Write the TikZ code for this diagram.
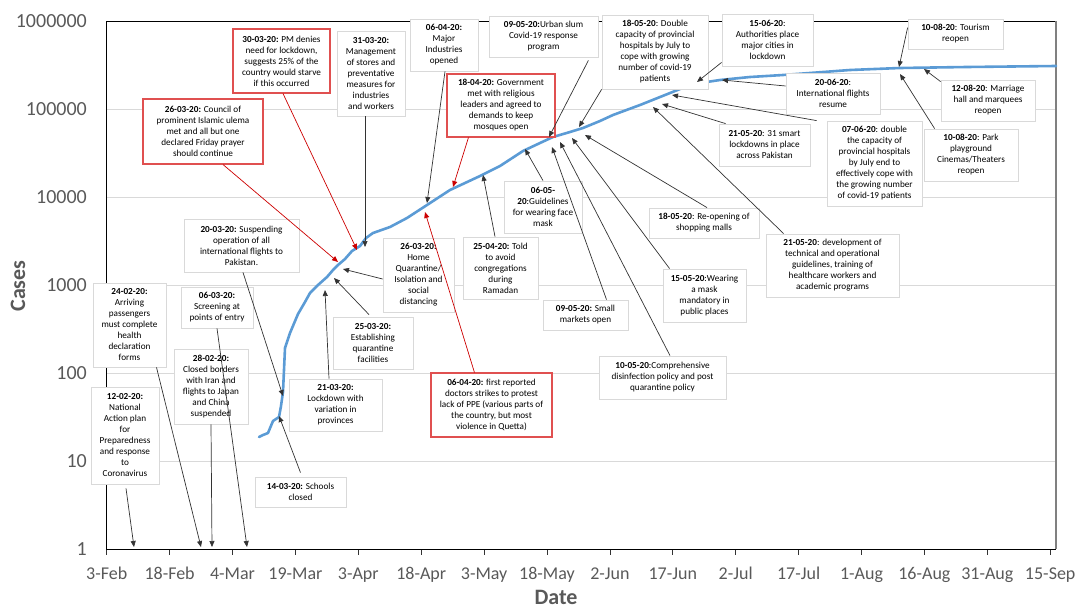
\documentclass[tikz,border=0pt]{standalone}
\usepackage{fontspec}
\setmainfont{Carlito}
\usetikzlibrary{arrows.meta}
\definecolor{curveblue}{RGB}{91,155,213}
\definecolor{boxgray}{RGB}{217,217,217}
\definecolor{boxred}{RGB}{224,80,80}
\definecolor{arrred}{RGB}{204,0,0}
\definecolor{axisgray}{RGB}{89,89,89}
\definecolor{gridgray}{RGB}{217,217,217}

\begin{document}
\begin{tikzpicture}[x=1pt,y=-1pt,
  event/.style={draw=boxgray, fill=white, line width=0.8pt, align=center, inner sep=1pt, font=\fontsize{9.2}{11}\selectfont},
  redevent/.style={event, draw=boxred, line width=1.1pt},
  pointer/.style={draw=black!80, line width=0.7pt, -{Triangle[length=6pt,width=5pt]}},
  redpointer/.style={pointer, draw=arrred},
  ticklab/.style={axisgray, inner sep=0pt, font=\fontsize{18}{20}\selectfont, anchor=base},
  caselab/.style={axisgray, inner sep=0pt, font=\fontsize{20}{22}\selectfont, anchor=base east},
  axistitle/.style={axisgray, inner sep=0pt, font=\bfseries\fontsize{22}{26}\selectfont},
]
\useasboundingbox (0,0) rectangle (1083,610);

\foreach \e in {1,...,5} {
  \draw[gridgray, line width=0.9pt] (106.7,549-88*\e) -- (1056,549-88*\e);
}
\foreach \v [count=\e from 0] in {1,10,100,1000,10000,100000,1000000} {
  \node (yl\e) [caselab] at (87,555.5-88*\e) {\v};
}
\foreach \lab [count=\i from 0] in {3-Feb,18-Feb,4-Mar,19-Mar,3-Apr,18-Apr,3-May,18-May,2-Jun,17-Jun,2-Jul,17-Jul,1-Aug,16-Aug,31-Aug,15-Sep} {
  \draw[black!80, line width=0.8pt] (106.7+62.9*\i,549) -- (106.7+62.9*\i,555);
  \node (xl\i) [ticklab] at (106.7+62.9*\i,579) {\lab};
}
\draw[black, line width=0.9pt] (1056,21) -- (106.7,21) -- (106.7,549) -- (1056,549);
\draw[black!50, line width=1.6pt] (1056,21) -- (1056,549);

\node (ytitle) [axistitle, rotate=90] at (18,286) {Cases};
\node (xtitle) [axistitle] at (556,597) {Date};

\draw[curveblue, line width=2.6pt, line join=round, line cap=round] plot coordinates {
  (259,437) (263,435) (268,433) (273,421) (279,417) (281,406) (283,392) (284,370)
  (285,348) (290,333) (298,314) (305,302) (310,293) (318,285) (327,277) (333,270)
  (338,265) (345,259) (352,251) (360,246) (366,238) (373,233) (390,227) (407,218)
  (427,205) (450,190) (480,176) (500,166) (523,151) (540,143) (553,137) (570,132)
  (583,128) (600,121) (613,115) (640,105) (660,97) (680,89) (700,83) (720,80)
  (750,77) (783,75) (850,70) (900,68) (967,67) (1056,66)};

% events, left to right in time
\node (b1202) [event, minimum width=68pt, minimum height=97pt] at (125,435.5)
  {\textbf{12-02-20:}\\National\\Action plan\\for\\Preparedness\\and response\\to\\Coronavirus};
\node (b2402) [event, minimum width=73pt, minimum height=84pt] at (129.5,325)
  {\textbf{24-02-20:}\\Arriving\\passengers\\must complete\\health\\declaration\\forms};
\node (b2802) [event, minimum width=74pt, minimum height=75pt] at (211,386.5)
  {\textbf{28-02-20:}\\Closed borders\\with Iran and\\flights to Japan\\and China\\suspended};
\node (b0603) [event, minimum width=72pt, minimum height=41pt] at (217,307.5)
  {\textbf{06-03-20:}\\Screening at\\points of entry};
\node (b1403) [event, minimum width=91pt, minimum height=30pt] at (300.5,492)
  {\textbf{14-03-20:} Schools\\closed};
\node (b2003) [event, minimum width=115pt, minimum height=53pt] at (241.5,245.5)
  {\textbf{20-03-20:} Suspending\\operation of all\\international flights to\\Pakistan.};
\node (b2103) [event, minimum width=93pt, minimum height=52pt] at (335.5,405)
  {\textbf{21-03-20:}\\Lockdown with\\variation in\\provinces};
\node (b2503) [event, minimum width=80pt, minimum height=52pt] at (373,343)
  {\textbf{25-03-20:}\\Establishing\\quarantine\\facilities};
\node (b2603h) [event, minimum width=71pt, minimum height=74pt] at (418.5,275)
  {\textbf{26-03-20:}\\Home\\Quarantine/\\Isolation and\\social\\distancing};
\node (b2603) [redevent, minimum width=120pt, minimum height=65pt] at (203,131.5)
  {\textbf{26-03-20:} Council of\\prominent Islamic ulema\\met and all but one\\declared Friday prayer\\should continue};
\node (b3003) [redevent, minimum width=97pt, minimum height=64pt] at (281.5,61)
  {\textbf{30-03-20:} PM denies\\need for lockdown,\\suggests 25\% of the\\country would starve\\if this occurred};
\node (b3103) [event, minimum width=68pt, minimum height=85pt] at (371,73.5)
  {\textbf{31-03-20:}\\Management\\of stores and\\preventative\\measures for\\industries\\and workers};
\node (b0604) [event, minimum width=68pt, minimum height=52pt] at (444,45)
  {\textbf{06-04-20:}\\Major\\Industries\\opened};
\node (b0604d) [redevent, minimum width=121pt, minimum height=64pt] at (491.5,405)
  {\textbf{06-04-20:} first reported\\doctors strikes to protest\\lack of PPE (various parts of\\the country, but most\\violence in Quetta)};
\node (b1804) [redevent, minimum width=108pt, minimum height=63pt] at (501,105.5)
  {\textbf{18-04-20:} Government\\met with religious\\leaders and agreed to\\demands to keep\\mosques open};
\node (b2504) [event, minimum width=75pt, minimum height=62pt] at (500.5,268)
  {\textbf{25-04-20:} Told\\to avoid\\congregations\\during\\Ramadan};
\node (b0605) [event, minimum width=78pt, minimum height=52pt] at (543,207)
  {\textbf{06-05-}\\\textbf{20}:Guidelines\\for wearing face\\mask};
\node (b0905) [event, minimum width=109pt, minimum height=41pt] at (543.5,36.5)
  {\textbf{09-05-20:}Urban slum\\Covid-19 response\\program};
\node (b0905s) [event, minimum width=85pt, minimum height=30pt] at (585.5,315)
  {\textbf{09-05-20:} Small\\markets open};
\node (b1005) [event, minimum width=127pt, minimum height=43pt] at (662.5,377.5)
  {\textbf{10-05-20}:Comprehensive\\disinfection policy and post\\quarantine policy};
\node (b1505) [event, minimum width=83pt, minimum height=53pt] at (704.5,295.5)
  {\textbf{15-05-20}:Wearing\\a mask\\mandatory in\\public places};
\node (b1805) [event, minimum width=106pt, minimum height=74pt] at (655,52)
  {\textbf{18-05-20}: Double\\capacity of provincial\\hospitals by July to\\cope with growing\\number of covid-19\\patients};
\node (b1805m) [event, minimum width=110pt, minimum height=30pt] at (704,223)
  {\textbf{18-05-20}: Re-opening of\\shopping malls};
\node (b2105s) [event, minimum width=91pt, minimum height=42pt] at (764.5,145)
  {\textbf{21-05-20}: 31 smart\\lockdowns in place\\across Pakistan};
\node (b2105d) [event, minimum width=133pt, minimum height=63pt] at (832.5,265.5)
  {\textbf{21-05-20}: development of\\technical and operational\\guidelines, training of\\healthcare workers and\\academic programs};
\node (b0706) [event, minimum width=95pt, minimum height=85pt] at (874.5,163.5)
  {\textbf{07-06-20}: double\\the capacity of\\provincial hospitals\\by July end to\\effectively cope with\\the growing number\\of covid-19 patients};
\node (b1506) [event, minimum width=91pt, minimum height=52pt] at (767.5,40)
  {\textbf{15-06-20}:\\Authorities place\\major cities in\\lockdown};
\node (b2006) [event, minimum width=94pt, minimum height=41pt] at (833,93.5)
  {\textbf{20-06-20}:\\International flights\\resume};
\node (b1008t) [event, minimum width=95pt, minimum height=30pt] at (955.5,34)
  {\textbf{10-08-20}: Tourism\\reopen};
\node (b1008p) [event, minimum width=94pt, minimum height=52pt] at (971,155)
  {\textbf{10-08-20}: Park\\playground\\Cinemas/Theaters\\reopen};
\node (b1208) [event, minimum width=94pt, minimum height=41pt] at (988,100.5)
  {\textbf{12-08-20}: Marriage\\hall and marquees\\reopen};

% where each pointer meets the curve or the axis
\coordinate (t1202) at (134,547);
\coordinate (t2402) at (201,547);
\coordinate (t2802) at (212,547);
\coordinate (t0603) at (247,547);
\coordinate (t1403) at (279,416);
\coordinate (t2003) at (283,396);
\coordinate (t2103) at (325,290);
\coordinate (t2503) at (334,278);
\coordinate (t2603h) at (343,269);
\coordinate (t2603) at (338,262);
\coordinate (t3003) at (357,250);
\coordinate (t3103) at (365,247);
\coordinate (t0604) at (427,203);
\coordinate (t0604d) at (425,212);
\coordinate (t1804) at (453,187);
\coordinate (t2504) at (483,175);
\coordinate (t0605) at (525,149);
\coordinate (t0905) at (549,137);
\coordinate (t0905s) at (552,147);
\coordinate (t1005) at (560,142);
\coordinate (t1505) at (572,138);
\coordinate (t1805) at (579,127);
\coordinate (t1805m) at (585,135);
\coordinate (t2105s) at (662,104);
\coordinate (t2105d) at (653,107);
\coordinate (t0706) at (672,95);
\coordinate (t1506) at (697,82);
\coordinate (t2006) at (722,80);
\coordinate (t1008t) at (899,67);
\coordinate (t1008p) at (900,74);
\coordinate (t1208) at (924,69);

\draw[pointer] ([xshift=1pt,yshift=-4pt]b1202.south) -- (t1202);
\draw[pointer] ([xshift=27pt]b2402.south) -- (t2402);
\draw[pointer] (b2802.south) -- (t2802);
\draw[pointer] (b0603.south) -- (t0603);
\draw[pointer] ([yshift=4pt]b1403.north) -- (t1403);
\draw[pointer] ([xshift=1.5pt]b2003.south) -- (t2003);
\draw[pointer] ([xshift=-6.5pt]b2103.north) -- (t2103);
\draw[pointer] ([xshift=-4pt,yshift=2pt]b2503.north) -- (t2503);
\draw[pointer] ([yshift=-4pt]b2603h.west) -- (t2603h);
\draw[redpointer] ([xshift=20pt]b2603.south) -- (t2603);
\draw[redpointer] ([xshift=1.5pt]b3003.south) -- (t3003);
\draw[pointer] ([xshift=-6pt]b3103.south) -- (t3103);
\draw[pointer] ([xshift=1pt]b0604.south) -- (t0604);
\draw[redpointer] ([xshift=44pt]b0604d.north west) -- (t0604d);
\draw[redpointer] ([xshift=22pt]b1804.south west) -- (t1804);
\draw[pointer] ([xshift=-5.5pt]b2504.north) -- (t2504);
\draw[pointer] (b0605.north) -- (t0605);
\draw[pointer] ([xshift=-10pt,yshift=-3pt]b0905.south east) -- (t0905);
\draw[pointer] ([xshift=21pt]b0905s.north) -- (t0905s);
\draw[pointer] ([xshift=7.5pt]b1005.north) -- (t1005);
\draw[pointer] ([xshift=7pt]b1505.north west) -- (t1505);
\draw[pointer] (b1805.south west) -- (t1805);
\draw[pointer] ([xshift=3pt]b1805m.north) -- (t1805m);
\draw[pointer] ([xshift=7pt]b2105s.north west) -- (t2105s);
\draw[pointer] ([xshift=18pt]b2105d.north west) -- (t2105d);
\draw[pointer] ([xshift=-10pt]b0706.north west) -- (t0706);
\draw[pointer] ([yshift=4pt]b1506.south west) -- (t1506);
\draw[pointer] ([yshift=7.5pt]b2006.west) -- (t2006);
\draw[pointer] ([yshift=-9pt]b1008t.north west) -- (t1008t);
\draw[pointer] ([xshift=11pt]b1008p.north west) -- (t1008p);
\draw[pointer] ([yshift=-2pt]b1208.north west) -- (t1208);
\end{tikzpicture}
\end{document}
